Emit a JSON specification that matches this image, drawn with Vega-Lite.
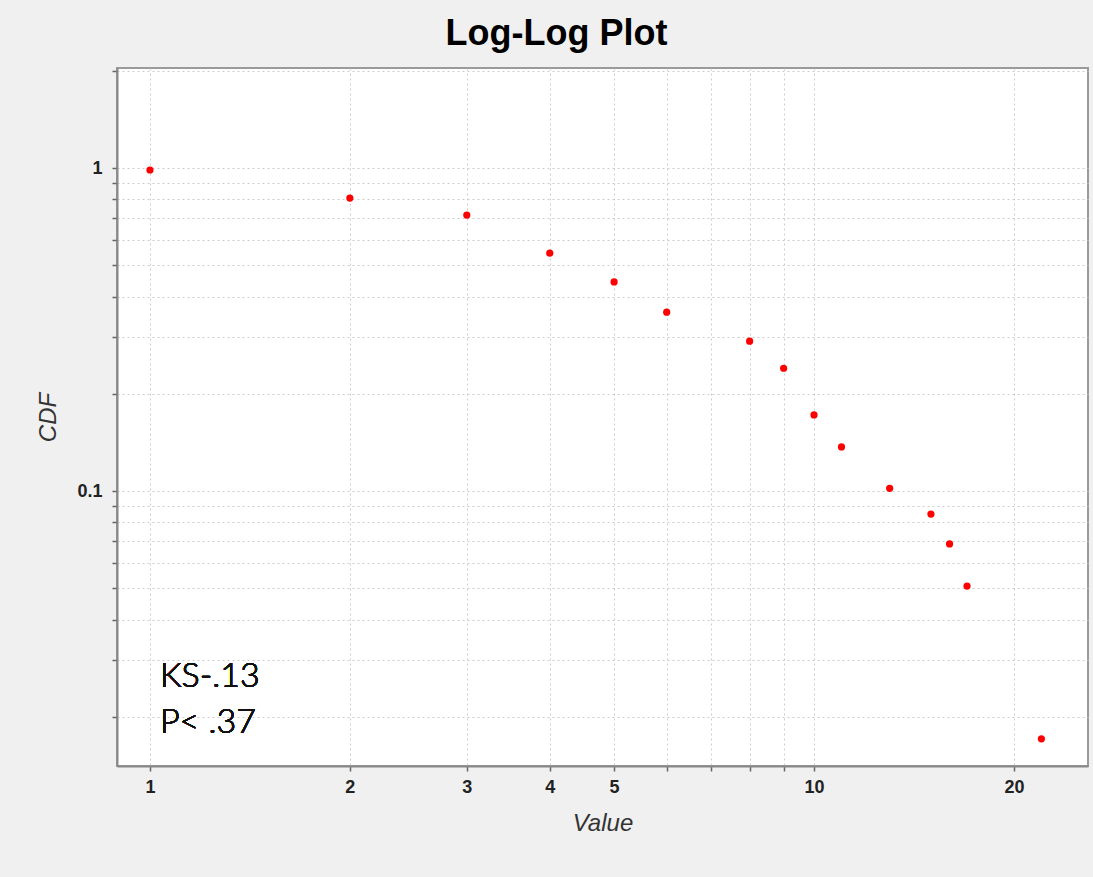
{
  "$schema": "https://vega.github.io/schema/vega-lite/v6.json",
  "autosize": {"type": "none"},
  "width": 971,
  "height": 698,
  "padding": {"left": 117, "top": 68, "right": 5, "bottom": 111},
  "background": "#f0f0f0",
  "title": {
    "text": "Log-Log Plot",
    "font": "Liberation Sans",
    "fontSize": 36,
    "fontWeight": "bold",
    "color": "#000000",
    "anchor": "middle",
    "dx": -46,
    "offset": 9
  },
  "config": {
    "view": {"fill": "#ffffff", "stroke": "#9a9a9a", "strokeWidth": 2},
    "axis": {
      "labelFont": "Liberation Sans",
      "labelFontSize": 18,
      "labelFontWeight": "bold",
      "labelColor": "#222222",
      "titleFont": "Liberation Sans",
      "titleFontSize": 24,
      "titleFontStyle": "italic",
      "titleFontWeight": "normal",
      "titleColor": "#333333",
      "domainColor": "#888888",
      "domainWidth": 2,
      "tickColor": "#666666",
      "tickSize": 5,
      "tickWidth": 1.5,
      "gridColor": "#cccccc",
      "gridDash": [2, 3],
      "gridWidth": 1,
      "labelOverlap": false,
      "labelFlush": false
    }
  },
  "data": {
    "values": [
      {"Value": 1, "CDF": 0.986},
      {"Value": 2, "CDF": 0.807},
      {"Value": 3, "CDF": 0.715},
      {"Value": 4, "CDF": 0.545},
      {"Value": 5, "CDF": 0.444},
      {"Value": 6, "CDF": 0.358},
      {"Value": 8, "CDF": 0.291},
      {"Value": 9, "CDF": 0.240},
      {"Value": 10, "CDF": 0.172},
      {"Value": 11, "CDF": 0.137},
      {"Value": 13, "CDF": 0.102},
      {"Value": 15, "CDF": 0.0849},
      {"Value": 16, "CDF": 0.0686},
      {"Value": 17, "CDF": 0.0508},
      {"Value": 22, "CDF": 0.0171}
    ]
  },
  "layer": [
    {
      "mark": {"type": "point", "filled": true, "color": "#ff0000", "size": 52, "opacity": 1, "shape": "circle"},
      "encoding": {
        "x": {
          "field": "Value",
          "type": "quantitative",
          "scale": {"type": "log", "domain": [0.892, 25.86], "nice": false, "zero": false},
          "axis": {
            "title": "Value",
            "values": [1, 2, 3, 4, 5, 6, 7, 8, 9, 10, 20],
            "format": "d",
            "labelExpr": "indexof([1,2,3,4,5,10,20], datum.value) >= 0 ? datum.label : ''",
            "labelPadding": 7,
            "titlePadding": 15
          }
        },
        "y": {
          "field": "CDF",
          "type": "quantitative",
          "scale": {"type": "log", "domain": [0.01409, 2.04], "nice": false, "zero": false},
          "axis": {
            "title": "CDF",
            "values": [0.02, 0.03, 0.04, 0.05, 0.06, 0.07, 0.08, 0.09, 0.1, 0.2, 0.3, 0.4, 0.5, 0.6, 0.7, 0.8, 0.9, 1, 2],
            "labelExpr": "datum.value == 1 ? '1' : (datum.value == 0.1 ? '0.1' : '')",
            "labelPadding": 10,
            "titlePadding": 16
          }
        }
      }
    },
    {
      "mark": {"type": "text", "align": "left", "baseline": "alphabetic", "font": "Lato", "fontSize": 34, "fontWeight": 300, "lineHeight": 46, "color": "#111111"},
      "encoding": {
        "x": {"datum": 1.035},
        "y": {"datum": 0.0247},
        "text": {"value": ["KS-.13", "P< .37"]}
      }
    }
  ]
}
